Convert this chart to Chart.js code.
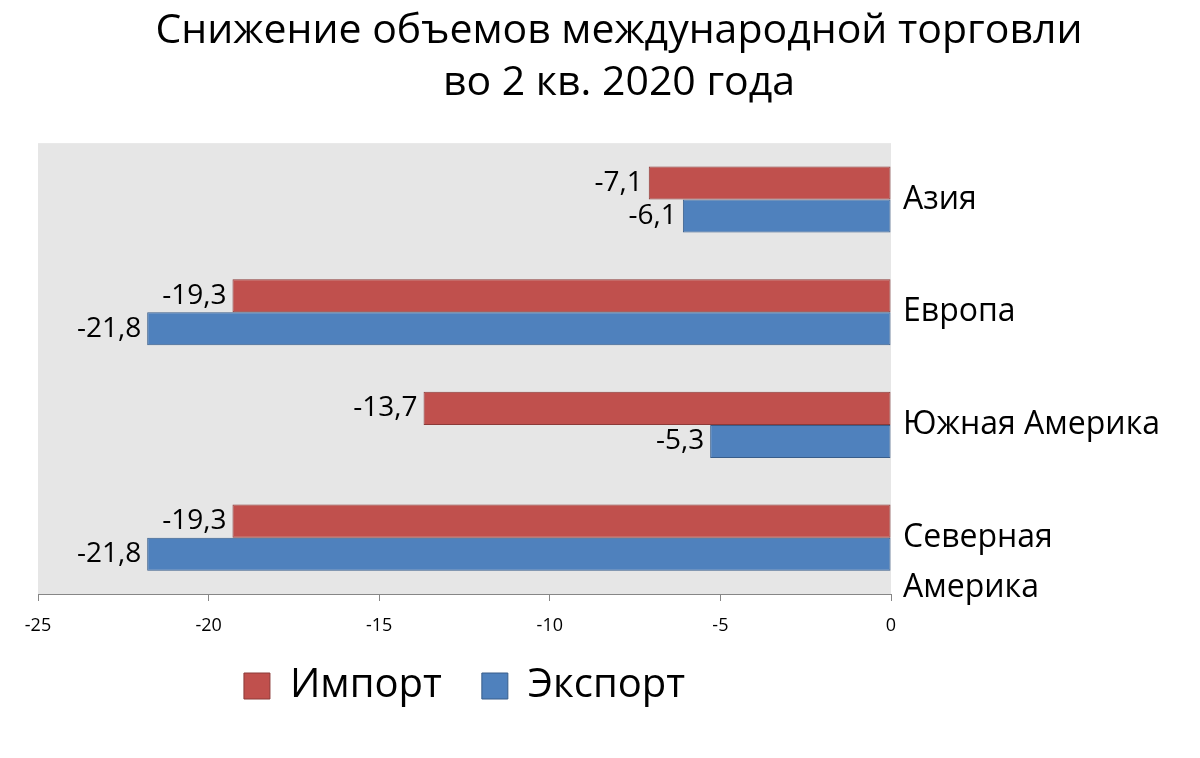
<!DOCTYPE html>
<html>
<head>
<meta charset="utf-8">
<script src="https://cdn.jsdelivr.net/npm/chart.js@4"></script>
<style>
html,body{margin:0;padding:0;background:#fff;}
#wrap{width:1200px;height:758px;}
</style>
</head>
<body>
<div id="wrap"><canvas id="c" width="1200" height="758"></canvas></div>
<script>
const categories = ["Азия", "Европа", "Южная Америка", ["", "Северная", "Америка"]];
const importValues = [-7.1, -19.3, -13.7, -19.3];
const exportValues = [-6.1, -21.8, -5.3, -21.8];
const seriesNames = ["Импорт", "Экспорт"];
const xTicks = [-25, -20, -15, -10, -5, 0];
const titleLines = ["Снижение объемов международной торговли", "во 2 кв. 2020 года"];

const FONT = "'Open Sans', 'Noto Sans', sans-serif";

const plotBg = {
  id: 'plotBg',
  beforeDraw(chart) {
    const {ctx, chartArea: a} = chart;
    ctx.save();
    ctx.fillStyle = '#E6E6E6';
    ctx.fillRect(a.left, a.top, a.right - a.left, a.bottom - a.top);
    ctx.restore();
  }
};

const legendShift = {
  id: 'legendShift',
  afterLayout(chart) {
    const lg = chart.legend;
    if (lg) { lg.top -= 18; lg.bottom -= 18; }
  }
};

const barLabels = {
  id: 'barLabels',
  afterDatasetsDraw(chart) {
    const ctx = chart.ctx;
    ctx.save();
    ctx.font = '28px ' + FONT;
    ctx.fillStyle = '#000';
    ctx.textAlign = 'right';
    ctx.textBaseline = 'middle';
    chart.data.datasets.forEach((ds, di) => {
      const meta = chart.getDatasetMeta(di);
      meta.data.forEach((bar, i) => {
        const v = ds.data[i];
        const txt = v.toFixed(1).replace('.', ',');
        ctx.fillText(txt, bar.x - 6, bar.y);
      });
    });
    ctx.restore();
  }
};

new Chart(document.getElementById('c'), {
  type: 'bar',
  data: {
    labels: categories,
    datasets: [
      {label: seriesNames[0], data: importValues, backgroundColor: '#C0504D', borderColor: '#8C3A38', borderWidth: 1, borderSkipped: false},
      {label: seriesNames[1], data: exportValues, backgroundColor: '#4F81BD', borderColor: '#385D8A', borderWidth: 1, borderSkipped: false}
    ]
  },
  options: {
    indexAxis: 'y',
    responsive: false,
    animation: false,
    devicePixelRatio: 1,
    layout: {padding: {left: 38, right: 0, top: 0, bottom: 24}},
    datasets: {bar: {categoryPercentage: 0.587, barPercentage: 1.0}},
    scales: {
      x: {
        min: -25, max: 0,
        afterBuildTicks(scale) { scale.ticks = xTicks.map(v => ({value: v})); },
        afterFit(scale) { scale.height = 50; },
        grid: {display: true, drawOnChartArea: false, drawTicks: true, tickLength: 7, color: '#868686'},
        border: {display: true, color: '#868686', width: 1},
        ticks: {color: '#000', font: {size: 18, family: FONT}, padding: 14, maxRotation: 0, autoSkip: false}
      },
      y: {
        position: 'right',
        afterFit(scale) { scale.width = 309; },
        grid: {display: false, drawTicks: false},
        border: {display: false},
        ticks: {color: '#000', font: {size: 32, family: FONT, lineHeight: 1.58}, padding: 12, autoSkip: false}
      }
    },
    plugins: {
      title: {
        display: true,
        text: titleLines,
        color: '#000',
        font: {size: 41, family: FONT, weight: 'normal', lineHeight: 1.27},
        padding: {top: 5, bottom: 34}
      },
      legend: {
        display: true,
        position: 'bottom',
        fullSize: false,
        labels: {
          color: '#000',
          font: {size: 40, family: FONT},
          boxWidth: 26, boxHeight: 26,
          padding: 40
        }
      },
      tooltip: {enabled: false}
    }
  },
  plugins: [plotBg, barLabels, legendShift]
});
</script>
</body>
</html>
